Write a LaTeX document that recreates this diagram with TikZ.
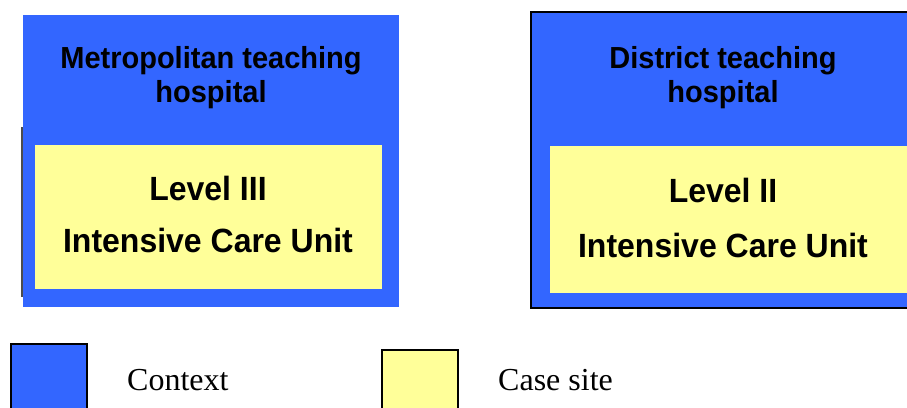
\documentclass[tikz,border=0pt]{standalone}
\usepackage{fontspec}
\setmainfont{Liberation Serif}
\newfontfamily\boxfont{Liberation Sans}
\definecolor{ctxblue}{HTML}{3366FF}
\definecolor{siteyellow}{HTML}{FFFF99}
\tikzset{
  ctxbox/.style={fill=ctxblue},
  sitebox/.style={fill=siteyellow},
  headtext/.style={anchor=base, inner sep=0pt, yscale=1.05, font=\boxfont\bfseries\fontsize{29}{34}\selectfont},
  unittext/.style={anchor=base, inner sep=0pt, yscale=1.05, font=\boxfont\bfseries\fontsize{32}{37}\selectfont},
  legtext/.style={anchor=base west, inner sep=0pt, font=\fontsize{32}{37}\selectfont},
  legbox/.style={draw=black, line width=1.5pt}
}
\begin{document}
\begin{tikzpicture}[x=1pt, y=-1pt]
  \useasboundingbox (0,0) rectangle (907,407);
  \clip (0,0) rectangle (907,407);

  % Metropolitan hospital (context) with its Level III unit
  \fill[ctxbox] (23,15) rectangle (399,307);
  \draw[draw=black!70, line width=1.2pt] (22,127) -- (22,297);
  \fill[sitebox] (35,145) rectangle (382,289);
  \node[headtext] (metro1) at (211,68) {Metropolitan teaching};
  \node[headtext] (metro2) at (211,102) {hospital};
  \node[unittext] (lvl3) at (208,200) {Level III};
  \node[unittext] (icu3) at (208,252) {Intensive Care Unit};

  % District hospital (context) with its Level II unit
  \filldraw[ctxbox, draw=black, line width=2pt] (531,12) rectangle (930,308);
  \fill[sitebox] (550,146) rectangle (907,293);
  \node[headtext] (dist1) at (723,68) {District teaching};
  \node[headtext] (dist2) at (723,102) {hospital};
  \node[unittext] (lvl2) at (723,202) {Level II};
  \node[unittext] (icu2) at (723,257) {Intensive Care Unit};

  % Legend
  \filldraw[legbox, fill=ctxblue] (11,344) rectangle (87,420);
  \node[legtext] (ctxlabel) at (127,390) {Context};
  \filldraw[legbox, fill=siteyellow] (382,350) rectangle (458,420);
  \node[legtext] (sitelabel) at (498,390) {Case site};
\end{tikzpicture}
\end{document}
